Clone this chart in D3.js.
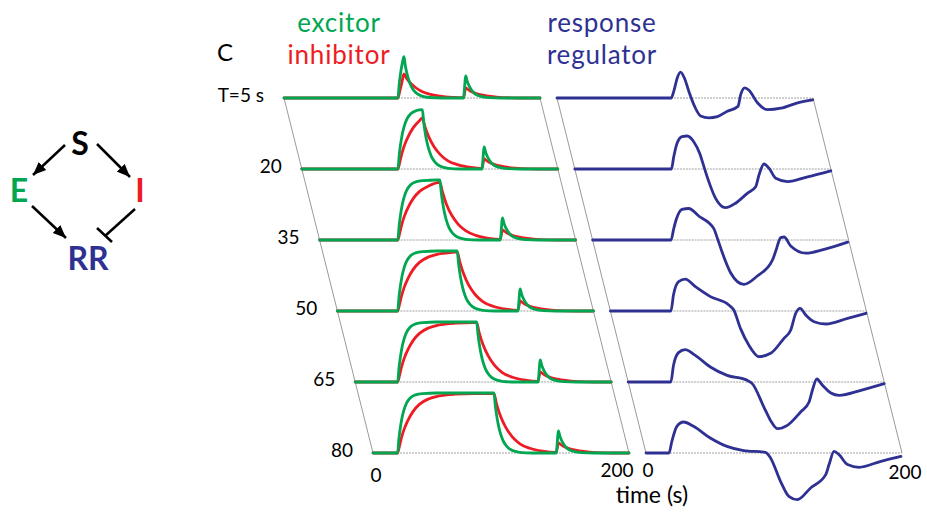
<!DOCTYPE html>
<html><head><meta charset="utf-8">
<script src="https://cdn.jsdelivr.net/npm/d3@7"></script>
<style>body{margin:0;background:#fff}svg{display:block}text{font-family:Lato,"Open Sans",sans-serif}</style>
</head><body><svg id="c" width="927" height="512"></svg>
<script>
// ---------- data ----------
const rowLabels = ["T=5 s", "20", "35", "50", "65", "80"];
const tickLabels = ["0", "200"];
const axisTitle = "time (s)";

// excitor traces, one per row: [time (s), level]
const excitor = [
  [[0,0],[89,0],[90,0.23],[91,0.40],[92.5,0.59],[93.7,0.69],[94.7,0.55],[95.7,0.44],[97.2,0.32],[98.7,0.23],[100.7,0.145],[103.7,0.076],[107.7,0.031],[113.7,0.008],[123.7,0],[140.2,0],[142,0.37],[143,0.29],[144.2,0.22],[146.2,0.14],[149.2,0.07],[153.2,0.03],[160.2,0.005],[170.2,0],[200,0]],
  [[0,0],[75.1,0],[76.1,0.23],[77.1,0.40],[78.6,0.59],[80.1,0.72],[82.1,0.83],[85.1,0.92],[89.1,0.97],[94.2,0.99],[95.2,0.79],[96.2,0.63],[97.7,0.455],[99.2,0.33],[101.2,0.21],[104.2,0.11],[108.2,0.045],[114.2,0.012],[124.2,0],[140.7,0],[142.5,0.37],[143.5,0.29],[144.7,0.22],[146.7,0.14],[149.7,0.07],[153.7,0.03],[160.7,0.005],[170.7,0],[200,0]],
  [[0,0],[61.1,0],[62.1,0.23],[63.1,0.40],[64.6,0.59],[66.1,0.72],[68.1,0.83],[71.1,0.92],[75.1,0.97],[81.1,0.99],[91.1,1.0],[94,1.0],[95,0.8],[96,0.64],[97.5,0.46],[99,0.33],[101,0.21],[104,0.11],[108,0.045],[114,0.012],[124,0],[141.1,0],[142.9,0.37],[143.9,0.29],[145.1,0.22],[147.1,0.14],[150.1,0.07],[154.1,0.03],[161.1,0.005],[171.1,0],[200,0]],
  [[0,0],[47.1,0],[48.1,0.23],[49.1,0.40],[50.6,0.59],[52.1,0.72],[54.1,0.83],[57.1,0.92],[61.1,0.97],[67.1,0.99],[77.1,1.0],[93.6,1.0],[94.6,0.8],[95.6,0.64],[97.1,0.46],[98.6,0.33],[100.6,0.21],[103.6,0.11],[107.6,0.045],[113.6,0.012],[123.6,0],[141,0],[142.8,0.37],[143.8,0.29],[145,0.22],[147,0.14],[150,0.07],[154,0.03],[161,0.005],[171,0],[200,0]],
  [[0,0],[33.2,0],[34.2,0.23],[35.2,0.40],[36.7,0.59],[38.2,0.72],[40.2,0.83],[43.2,0.92],[47.2,0.97],[53.2,0.99],[63.2,1.0],[94.9,1.0],[95.9,0.8],[96.9,0.64],[98.4,0.46],[99.9,0.33],[101.9,0.21],[104.9,0.11],[108.9,0.045],[114.9,0.012],[124.9,0],[142.8,0],[144.6,0.37],[145.6,0.29],[146.8,0.22],[148.8,0.14],[151.8,0.07],[155.8,0.03],[162.8,0.005],[172.8,0],[200,0]],
  [[0,0],[19.2,0],[20.2,0.23],[21.2,0.40],[22.7,0.59],[24.2,0.72],[26.2,0.83],[29.2,0.92],[33.2,0.97],[39.2,0.99],[49.2,1.0],[94.5,1.0],[95.5,0.8],[96.5,0.64],[98,0.46],[99.5,0.33],[101.5,0.21],[104.5,0.11],[108.5,0.045],[114.5,0.012],[124.5,0],[143.1,0],[144.9,0.37],[145.9,0.29],[147.1,0.22],[149.1,0.14],[152.1,0.07],[156.1,0.03],[163.1,0.005],[173.1,0],[200,0]]
];

// inhibitor traces
const inhibitor = [
  [[0,0],[89,0],[90.5,0.12],[92,0.25],[93.7,0.40],[95.7,0.33],[98.7,0.25],[102.7,0.175],[107.7,0.11],[113.7,0.065],[121.7,0.032],[131.7,0.012],[140.2,0.005],[142,0.17],[143.2,0.15],[145.2,0.12],[148.2,0.09],[152.2,0.06],[158.2,0.035],[166.2,0.015],[178.2,0.003],[190.2,0],[200,0]],
  [[0,0],[75.1,0],[76.6,0.12],[78.1,0.25],[80.1,0.39],[83.1,0.54],[87.1,0.69],[92.1,0.81],[94.2,0.85],[96.2,0.705],[99.2,0.535],[103.2,0.375],[108.2,0.24],[114.2,0.135],[122.2,0.068],[132.2,0.026],[140.7,0.01],[142.5,0.17],[143.7,0.15],[145.7,0.12],[148.7,0.09],[152.7,0.06],[158.7,0.035],[166.7,0.015],[178.7,0.003],[190.7,0],[200,0]],
  [[0,0],[61.1,0],[62.6,0.12],[64.1,0.25],[66.1,0.39],[69.1,0.54],[73.1,0.69],[78.1,0.81],[85.1,0.9],[94,0.96],[96,0.8],[99,0.6],[103,0.42],[108,0.27],[114,0.155],[122,0.077],[132,0.029],[141.1,0.01],[142.9,0.17],[144.1,0.15],[146.1,0.12],[149.1,0.09],[153.1,0.06],[159.1,0.035],[167.1,0.015],[179.1,0.003],[191.1,0],[200,0]],
  [[0,0],[47.1,0],[48.6,0.12],[50.1,0.25],[52.1,0.39],[55.1,0.54],[59.1,0.69],[64.1,0.81],[71.1,0.9],[79.1,0.95],[92.1,0.98],[93.6,0.985],[95.6,0.82],[98.6,0.62],[102.6,0.43],[107.6,0.275],[113.6,0.158],[121.6,0.079],[131.6,0.03],[141,0.01],[142.8,0.17],[144,0.15],[146,0.12],[149,0.09],[153,0.06],[159,0.035],[167,0.015],[179,0.003],[191,0],[200,0]],
  [[0,0],[33.2,0],[34.7,0.12],[36.2,0.25],[38.2,0.39],[41.2,0.54],[45.2,0.69],[50.2,0.81],[57.2,0.9],[65.2,0.95],[78.2,0.98],[93.2,0.99],[94.9,0.99],[96.9,0.82],[99.9,0.62],[103.9,0.435],[108.9,0.277],[114.9,0.158],[122.9,0.079],[132.9,0.03],[142.8,0.01],[144.6,0.17],[145.8,0.15],[147.8,0.12],[150.8,0.09],[154.8,0.06],[160.8,0.035],[168.8,0.015],[180.8,0.003],[192.8,0],[200,0]],
  [[0,0],[19.2,0],[20.7,0.12],[22.2,0.25],[24.2,0.39],[27.2,0.54],[31.2,0.69],[36.2,0.81],[43.2,0.9],[51.2,0.95],[64.2,0.98],[79.2,0.99],[94.5,0.99],[96.5,0.82],[99.5,0.62],[103.5,0.435],[108.5,0.277],[114.5,0.158],[122.5,0.079],[132.5,0.03],[143.1,0.01],[144.9,0.17],[146.1,0.15],[148.1,0.12],[151.1,0.09],[155.1,0.06],[161.1,0.035],[169.1,0.015],[181.1,0.003],[193.1,0],[200,0]]
];

// response regulator traces
const regulator = [
  [[0,0],[89.2,0],[91.2,0.11],[93.9,0.33],[96.5,0.43],[99.6,0.33],[103,0.11],[107.5,-0.14],[112.2,-0.30],[118.7,-0.33],[125.3,-0.31],[133.1,-0.22],[141.4,-0.14],[143.5,0.055],[146.7,0.17],[150,0.13],[156.6,-0.08],[164.5,-0.195],[174.9,-0.17],[188,-0.08],[199.8,-0.03]],
  [[0,0],[75.5,0],[77.3,0.205],[79.9,0.43],[83.8,0.54],[87.8,0.55],[92.9,0.455],[97.6,0.26],[101.3,0.01],[104.7,-0.21],[110,-0.49],[117.8,-0.645],[125.6,-0.57],[134.8,-0.405],[141.3,-0.295],[143.9,-0.1],[147.8,0.083],[151.8,0.01],[157,-0.155],[166.2,-0.21],[181.9,-0.13],[200,-0.03]],
  [[0,0],[61.3,0],[63.3,0.18],[65.4,0.345],[69.9,0.51],[75.1,0.525],[82.9,0.4],[94.7,0.19],[97.3,0.04],[101.3,-0.21],[107.8,-0.545],[118.2,-0.74],[128.7,-0.6],[140.5,-0.335],[143.1,-0.185],[147,0.04],[149.6,0.05],[154.8,-0.1],[166.6,-0.22],[180.9,-0.155],[199.3,-0.035]],
  [[0,0],[47.3,0],[49.3,0.27],[53.3,0.49],[58.5,0.53],[66.4,0.405],[78.1,0.24],[92.5,0.1],[96.4,0.017],[101.6,-0.29],[108.2,-0.57],[116,-0.76],[125.2,-0.705],[135.6,-0.455],[140.9,-0.317],[144.8,-0.038],[148.2,0.045],[152.6,-0.067],[159.1,-0.178],[168.3,-0.217],[185.3,-0.122],[199.7,-0.038]],
  [[0,0],[33.3,0],[35.4,0.28],[39.3,0.49],[44.5,0.54],[52.4,0.445],[64.2,0.25],[77.3,0.11],[92.9,0.028],[96.9,-0.027],[106,-0.417],[111.2,-0.64],[116.5,-0.777],[124.3,-0.722],[134.7,-0.5],[141.3,-0.333],[143.9,-0.138],[147.3,0.05],[151.8,-0.055],[158.3,-0.183],[164.8,-0.222],[181.8,-0.138],[200,-0.027]],
  [[0,0],[18,0],[20.2,0.195],[24.1,0.445],[29.3,0.517],[37.1,0.445],[50.2,0.25],[63.3,0.11],[76.3,0.04],[93.3,0.012],[97.3,-0.083],[105.1,-0.472],[111.6,-0.722],[118.2,-0.777],[128.6,-0.583],[140.4,-0.36],[143,-0.193],[146.9,0.028],[150.8,-0.027],[157.4,-0.193],[166.5,-0.238],[183.5,-0.138],[199.2,-0.055]]
];

const GREEN = "#00a651", RED = "#ed1c24", BLUE = "#2e3192";

// ---------- scales ----------
const svg = d3.select("#c");
const rowY = d3.scaleLinear().domain([0, 5]).range([98, 453]);
const rowShift = d3.scaleLinear().domain([0, 5]).range([0, 89]);
const xL = d3.scaleLinear().domain([0, 200]).range([284, 540]);
const xR = d3.scaleLinear().domain([0, 200]).range([557, 813]);
const yAmp = d3.scaleLinear().domain([0, 1]).range([0, -60]);
const rows = d3.range(rowLabels.length);

function panel(x, series) {
  const g = svg.append("g");
  x.domain().forEach(t => {
    g.append("line")
      .attr("x1", x(t) + rowShift(0)).attr("y1", rowY(0))
      .attr("x2", x(t) + rowShift(5)).attr("y2", rowY(5))
      .attr("stroke", "#9a9a9a").attr("stroke-width", 1);
  });
  rows.forEach(r => {
    g.append("line")
      .attr("x1", x(0) + rowShift(r)).attr("x2", x(200) + rowShift(r))
      .attr("y1", rowY(r)).attr("y2", rowY(r))
      .attr("stroke", "#a0a0a0").attr("stroke-width", 1).attr("stroke-dasharray", "2,1");
  });
  series.forEach(({data, color}) => {
    data.forEach((pts, r) => {
      const line = d3.line()
        .x(d => x(d[0]) + rowShift(r))
        .y(d => rowY(r) + yAmp(d[1]))
        .curve(d3.curveMonotoneX);
      g.append("path").attr("d", line(pts))
        .attr("fill", "none").attr("stroke", color)
        .attr("stroke-width", 2.8).attr("stroke-linejoin", "round").attr("stroke-linecap", "round");
    });
  });
}

panel(xL, [{data: inhibitor, color: RED}, {data: excitor, color: GREEN}]);
panel(xR, [{data: regulator, color: BLUE}]);

// row labels
svg.append("g").selectAll("text").data(rowLabels).join("text")
  .attr("x", (d, i) => xL(0) + rowShift(i) - 20)
  .attr("y", (d, i) => rowY(i) + 4)
  .attr("text-anchor", "end").attr("font-size", 19).attr("fill", "#000")
  .text(d => d);

// tick labels
const tk = svg.append("g").attr("font-size", 19).attr("fill", "#000").attr("text-anchor", "middle");
tk.append("text").attr("x", xL(0) + rowShift(5) + 3).attr("y", 482).text(tickLabels[0]);
tk.append("text").attr("x", xL(200) + rowShift(5) - 12).attr("y", 477).text(tickLabels[1]);
tk.append("text").attr("x", xR(0) + rowShift(5) + 2).attr("y", 477).text(tickLabels[0]);
tk.append("text").attr("x", xR(200) + rowShift(5) + 3).attr("y", 479).text(tickLabels[1]);
svg.append("text").attr("x", 652).attr("y", 503).attr("text-anchor", "middle")
  .attr("font-size", 23).attr("fill", "#000").text(axisTitle);

// titles
const tt = svg.append("g").attr("font-size", 26).attr("letter-spacing", 0.8).attr("text-anchor", "middle");
tt.append("text").attr("x", 339).attr("y", 32).attr("fill", GREEN).text("excitor");
tt.append("text").attr("x", 339).attr("y", 64).attr("fill", RED).text("inhibitor");
tt.append("text").attr("x", 602).attr("y", 32).attr("fill", BLUE).text("response");
tt.append("text").attr("x", 602).attr("y", 64).attr("fill", BLUE).text("regulator");
svg.append("text").attr("x", 217).attr("y", 61).attr("font-size", 24).attr("fill", "#000").text("C");

// network diagram
const defs = svg.append("defs");
defs.append("marker").attr("id", "ah").attr("markerUnits", "userSpaceOnUse")
  .attr("viewBox", "-13 -6 14 12").attr("refX", 0).attr("refY", 0)
  .attr("markerWidth", 14).attr("markerHeight", 12).attr("orient", "auto")
  .append("path").attr("d", "M0,0L-13,-5.5L-13,5.5Z").attr("fill", "#000");
const dg = svg.append("g");
const arrows = [
  {x1: 65, y1: 145, x2: 33, y2: 175},
  {x1: 97, y1: 144, x2: 130, y2: 177},
  {x1: 32, y1: 206, x2: 66, y2: 238}
];
arrows.forEach(a => dg.append("line").attr("x1", a.x1).attr("y1", a.y1).attr("x2", a.x2).attr("y2", a.y2)
  .attr("stroke", "#000").attr("stroke-width", 2.5).attr("marker-end", "url(#ah)"));
dg.append("line").attr("x1", 135).attr("y1", 209).attr("x2", 105).attr("y2", 236)
  .attr("stroke", "#000").attr("stroke-width", 2.5);
dg.append("line").attr("x1", 97).attr("y1", 228).attr("x2", 112).attr("y2", 242)
  .attr("stroke", "#000").attr("stroke-width", 2.5);
const nodes = [
  {t: "S", x: 80, y: 155, c: "#000"},
  {t: "E", x: 19, y: 202, c: GREEN},
  {t: "I", x: 140, y: 202, c: RED},
  {t: "RR", x: 88, y: 270, c: BLUE}
];
dg.selectAll("text.n").data(nodes).join("text").attr("class", "n")
  .attr("x", d => d.x).attr("y", d => d.y).attr("text-anchor", "middle")
  .attr("font-size", 32).attr("font-weight", 700).attr("fill", d => d.c).text(d => d.t);
</script></body></html>
